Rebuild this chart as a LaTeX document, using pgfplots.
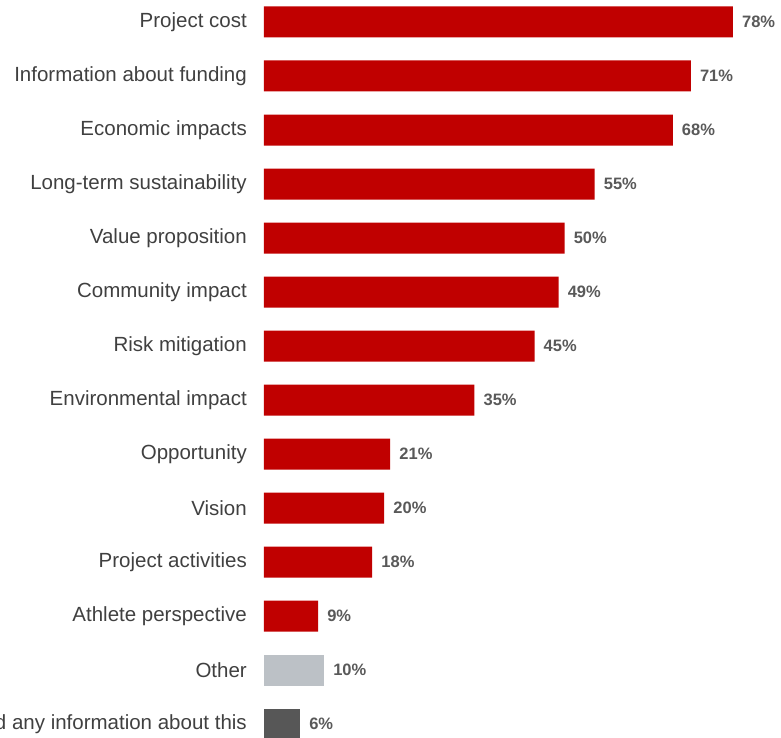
\documentclass[border=0pt]{standalone}
\usepackage{pgfplots}
\pgfplotsset{compat=1.18}
\usepackage{fontspec}
\setmainfont{Liberation Sans}
\definecolor{barred}{HTML}{C00000}
\definecolor{lightgr}{HTML}{BCC1C6}
\definecolor{darkgr}{HTML}{575757}
\definecolor{labgr}{HTML}{404040}
\definecolor{valgr}{HTML}{595959}
\begin{document}
\begin{tikzpicture}[x=1pt,y=1pt]
\clip (0,0) rectangle (781,738);
\begin{axis}[
  at={(264pt,-13pt)}, anchor=south west,
  scale only axis, width=511pt, height=756pt,
  xbar, bar width=31pt, bar shift=0pt,
  xmin=0, xmax=85, ymin=-0.5, ymax=13.5, y dir=reverse,
  axis line style={draw=none}, major tick length=0pt,
  xtick=\empty, ytick={0,...,13},
  yticklabels={Project cost, Information about funding, Economic impacts,
    Long-term sustainability, Value proposition, Community impact,
    Risk mitigation, Environmental impact, Opportunity, Vision,
    Project activities, Athlete perspective, Other,
    Could not find any information about this},
  yticklabel style={font=\fontsize{20.5}{24}\selectfont, text=labgr,
    anchor=east, inner sep=0pt, xshift=-17pt},
  point meta=explicit symbolic,
  nodes near coords={\pgfplotspointmeta\%},
  nodes near coords style={font=\bfseries\fontsize{16.5}{20}\selectfont,
    text=valgr, anchor=west, inner sep=0pt, xshift=9pt},
]
\addplot[fill=barred, draw=none] coordinates {
  (78,0) [78] (71,1) [71] (68,2) [68] (55,3) [55] (50,4) [50] (49,5) [49]
  (45,6) [45] (35,7) [35] (21,8) [21] (20,9) [20] (18,10) [18] (9,11) [9]
};
\addplot[fill=lightgr, draw=none] coordinates {(10,12) [10]};
\addplot[fill=darkgr, draw=none] coordinates {(6,13) [6]};
\end{axis}
\end{tikzpicture}
\end{document}
